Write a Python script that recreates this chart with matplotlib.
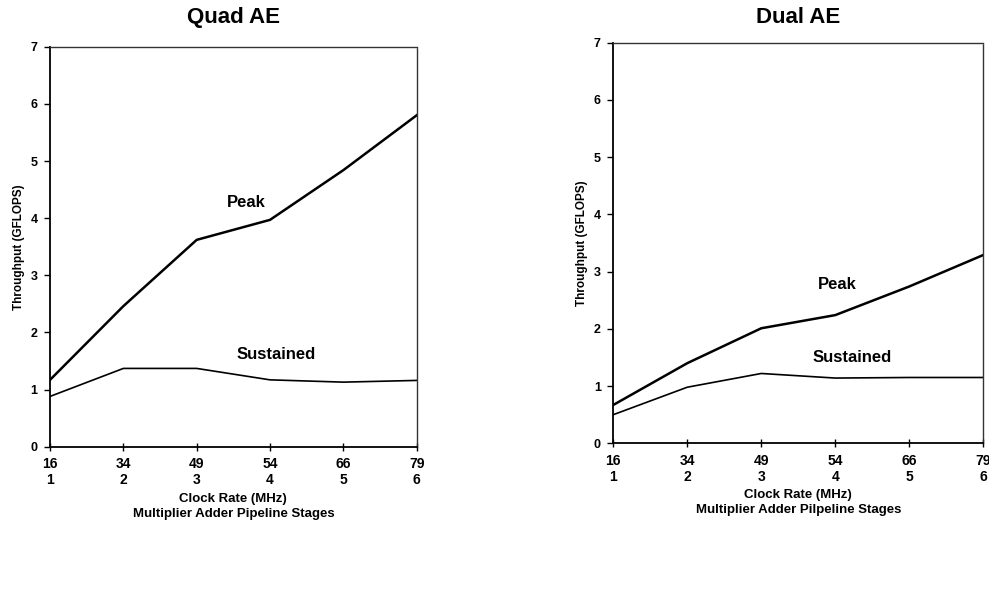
import numpy as np
import matplotlib
matplotlib.use("Agg")
import matplotlib.pyplot as plt

plt.rcParams['font.family'] = ['Liberation Sans', 'DejaVu Sans']
plt.rcParams['font.weight'] = 'bold'

# data
clock_mhz = ['16', '34', '49', '54', '66', '79']
stages = ['1', '2', '3', '4', '5', '6']

quad_peak = [1.17, 2.46, 3.62, 3.97, 4.84, 5.80]
quad_sustained = [0.88, 1.37, 1.37, 1.17, 1.13, 1.16]

dual_peak = [0.67, 1.40, 2.01, 2.24, 2.74, 3.29]
dual_sustained = [0.50, 0.98, 1.22, 1.14, 1.15, 1.15]

titles = ['Quad AE', 'Dual AE']
xlabels = ['Clock Rate (MHz)\nMultiplier Adder Pipeline Stages',
           'Clock Rate (MHz)\nMultiplier Adder Pilpeline Stages']

fig = plt.figure(figsize=(9.89, 5.96), dpi=100)
ax1 = fig.add_axes([0.0506, 0.2505, 0.3707, 0.6711])
ax2 = fig.add_axes([0.6201, 0.2562, 0.3741, 0.6722])


def draw(ax, peak, sust, title, xlabel, peak_pos, sust_pos, tpad):
    x = np.arange(len(clock_mhz))
    ax.plot(x, peak, color='black', lw=1.8)
    ax.plot(x, sust, color='black', lw=1.2)
    ax.set_xlim(0, len(clock_mhz) - 1)
    ax.set_ylim(0, 7)
    ax.set_yticks(range(8))
    ax.set_xticks(x)
    ax.set_xticklabels([a + '\n' + b for a, b in zip(clock_mhz, stages)],
                       linespacing=1.2)
    ax.tick_params(axis='x', direction='inout', length=6, width=1, pad=4.5,
                   labelsize=10)
    ax.tick_params(axis='y', direction='out', length=4, width=1, pad=5,
                   labelsize=9)
    for s in ['left', 'bottom']:
        ax.spines[s].set_linewidth(1.3)
    for s in ['top', 'right']:
        ax.spines[s].set_linewidth(1.0)
        ax.spines[s].set_linestyle((0, (1, 1)))
        ax.spines[s].set_color('#333333')
    ax.set_title(title, fontsize=16, fontweight='bold', pad=tpad)
    ax.set_xlabel(xlabel, fontsize=9.5, fontweight='bold', labelpad=4,
                  linespacing=1.3)
    ax.set_ylabel('Throughput (GFLOPS)', fontsize=8.5, fontweight='bold',
                  labelpad=4)
    ax.text(peak_pos[0], peak_pos[1], 'Peak', fontsize=12, fontweight='bold',
            ha='center', va='center')
    ax.text(sust_pos[0], sust_pos[1], 'Sustained', fontsize=12,
            fontweight='bold', ha='center', va='center')


draw(ax1, quad_peak, quad_sustained, titles[0], xlabels[0],
     (2.68, 4.28), (3.09, 1.62), 17)
draw(ax2, dual_peak, dual_sustained, titles[1], xlabels[1],
     (3.03, 2.77), (3.23, 1.50), 14)

fig.savefig('out.png', dpi=100)
